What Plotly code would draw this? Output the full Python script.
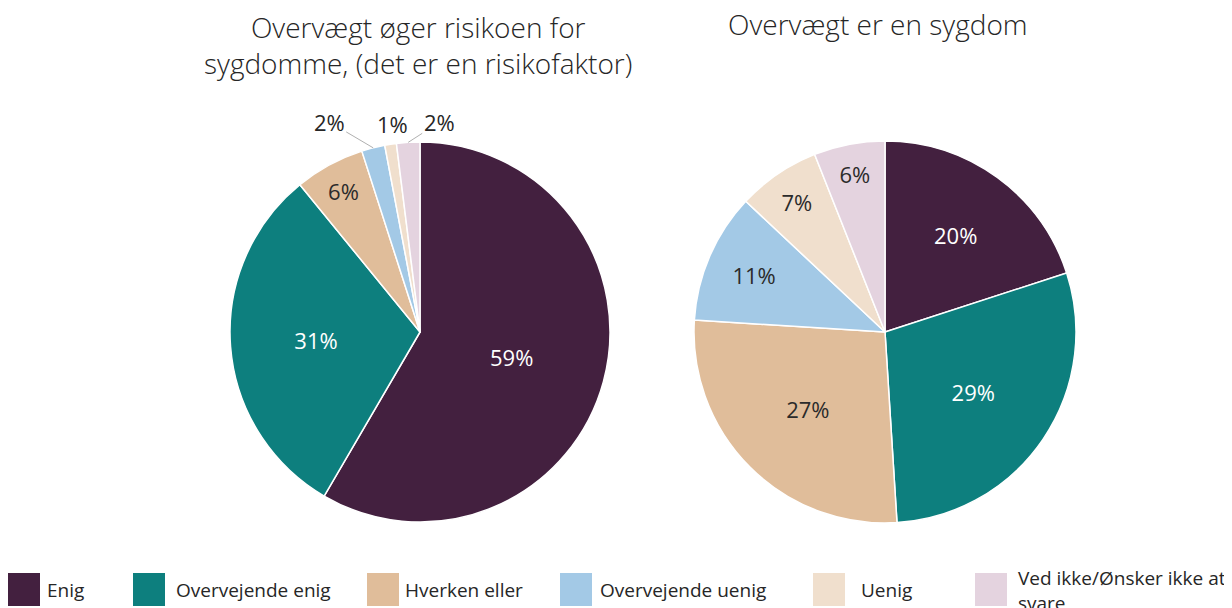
"""
Overvægt survey - two pie charts with a custom legend row
"""

import math
import plotly.graph_objects as go

categories = ['Enig', 'Overvejende enig', 'Hverken eller',
              'Overvejende uenig', 'Uenig', 'Ved ikke/Ønsker ikke at<br>svare']
risk_values = [59, 31, 6, 2, 1, 2]
disease_values = [20, 29, 27, 11, 7, 6]
titles = ['Overvægt øger risikoen for<br>sygdomme, (det er en risikofaktor)',
          'Overvægt er en sygdom']

colors = ['#43203f', '#0d7f7e', '#e0bd9a', '#a3c9e6', '#f0dfcd', '#e4d3df']
text_colors = ['#ffffff', '#ffffff', '#2b2b2b', '#2b2b2b', '#2b2b2b', '#2b2b2b']

# page has an 8px body margin, so the figure is shifted by that much
OFF = 8
W, H = 1232 - 2 * OFF, 608 - OFF
FONT = 'Open Sans'
TXT = '#262626'


def px(x):
    return (x - OFF) / W


def py(y):
    return 1 - (y - OFF) / H


# pie geometry (in screenshot pixels)
left_c, left_r = (420, 332), 190
right_c, right_r = (885, 332), 191

small = [v < 5 for v in risk_values]

fig = go.Figure()

# Left pie
fig.add_trace(go.Pie(
    labels=categories,
    values=risk_values,
    sort=False,
    direction='clockwise',
    rotation=0,
    marker=dict(colors=colors, line=dict(color='#ffffff', width=1.5)),
    text=['' if s else f'{v}%' for v, s in zip(risk_values, small)],
    textinfo='text',
    textposition='inside',
    insidetextorientation='horizontal',
    insidetextfont=dict(size=22, color=text_colors, family=FONT),
    domain=dict(x=[px(left_c[0] - left_r), px(left_c[0] + left_r)],
                y=[py(left_c[1] + left_r), py(left_c[1] - left_r)]),
    showlegend=False,
    hoverinfo='label+value',
))

# Right pie
fig.add_trace(go.Pie(
    labels=categories,
    values=disease_values,
    sort=False,
    direction='clockwise',
    rotation=0,
    marker=dict(colors=colors, line=dict(color='#ffffff', width=1.5)),
    texttemplate='%{value}%',
    textposition='inside',
    insidetextorientation='horizontal',
    insidetextfont=dict(size=22, color=text_colors, family=FONT),
    domain=dict(x=[px(right_c[0] - right_r), px(right_c[0] + right_r)],
                y=[py(right_c[1] + right_r), py(right_c[1] - right_r)]),
    showlegend=False,
    hoverinfo='label+value',
))

annotations = [
    dict(text=titles[0], x=px(418), y=py(45), xref='paper', yref='paper',
         xanchor='center', yanchor='middle', showarrow=False, align='center',
         font=dict(size=28, color=TXT, family=FONT, weight=300)),
    dict(text=titles[1], x=px(878), y=py(24), xref='paper', yref='paper',
         xanchor='center', yanchor='middle', showarrow=False, align='center',
         font=dict(size=28, color=TXT, family=FONT, weight=300)),
]

# Small slices of the left pie get labels outside with leader lines
label_offsets = {3: (-44, -26), 4: (2, -20), 5: (31, -20)}
total = sum(risk_values)
cum = 0
for i, v in enumerate(risk_values):
    mid = (cum + v / 2) / total * 2 * math.pi
    cum += v
    if not small[i]:
        continue
    ex = left_c[0] + left_r * math.sin(mid)
    ey = left_c[1] - left_r * math.cos(mid)
    ax, ay = label_offsets[i]
    annotations.append(dict(
        text=f'{v}%', x=px(ex), y=py(ey), xref='paper', yref='paper',
        showarrow=True, arrowhead=0, arrowwidth=1,
        arrowcolor='rgba(0,0,0,0)' if i == 4 else '#b0b0b0',
        ax=ax, ay=ay, standoff=0,
        font=dict(size=22, color=TXT, family=FONT),
    ))

# Custom legend with large swatches
legend_box_x = [8, 133, 367, 560, 813, 975]
legend_text_x = [45, 174, 403, 598, 859, 1016]
shapes = []
for i, cat in enumerate(categories):
    shapes.append(dict(
        type='rect', xref='paper', yref='paper',
        x0=px(legend_box_x[i]), x1=px(legend_box_x[i] + 32),
        y0=py(606), y1=py(573),
        fillcolor=colors[i], line=dict(width=0),
    ))
    annotations.append(dict(
        text=cat, x=px(legend_text_x[i]), y=py(590),
        xref='paper', yref='paper', xanchor='left', yanchor='middle',
        showarrow=False, align='left',
        font=dict(size=19, color=TXT, family=FONT),
    ))

fig.update_layout(
    width=W,
    height=H,
    margin=dict(l=0, r=0, t=0, b=0),
    paper_bgcolor='#ffffff',
    plot_bgcolor='#ffffff',
    font=dict(family=FONT, color=TXT),
    annotations=annotations,
    shapes=shapes,
)

fig.write_html("out.html")
